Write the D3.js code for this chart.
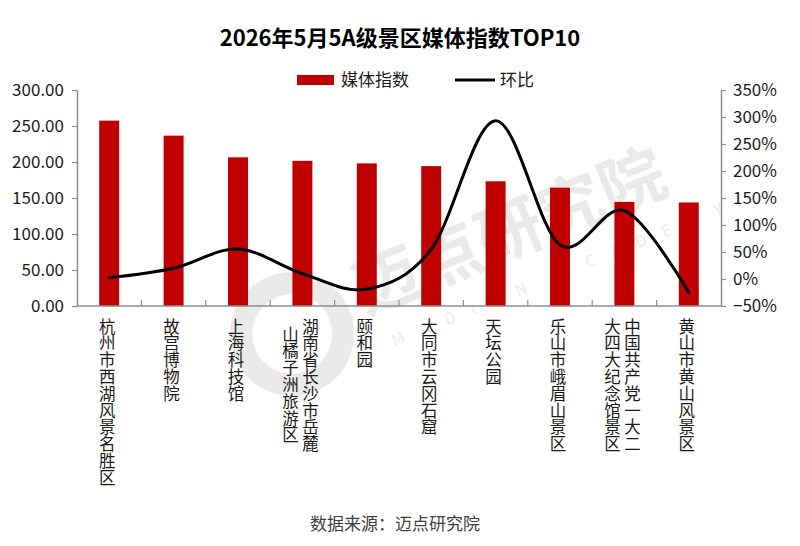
<!DOCTYPE html>
<html>
<head>
<meta charset="utf-8">
<script src="https://cdn.jsdelivr.net/npm/d3@7"></script>
<style>
  body { margin: 0; background: #fff; }
  text { font-family: "Noto Sans CJK SC", "Noto Sans", sans-serif; }
  .vlabel { writing-mode: vertical-rl; text-orientation: upright; }
</style>
</head>
<body>
<script>
const w = 800, h = 546;

// 景区名称（竖排，多列时从右到左）
const spots = [
  ["杭州市西湖风景名胜区"],
  ["故宫博物院"],
  ["上海科技馆"],
  ["湖南省长沙市岳麓", "山橘子洲旅游区"],
  ["颐和园"],
  ["大同市云冈石窟"],
  ["天坛公园"],
  ["乐山市峨眉山景区"],
  ["中国共产党一大二", "大四大纪念馆景区"],
  ["黄山市黄山风景区"]
];
const mediaIndex = [257.4, 236.6, 206.5, 201.6, 198.1, 194.3, 173.2, 164.4, 144.6, 143.8];
const momChange = [0.025, 0.20, 0.555, 0.10, -0.19, 0.55, 2.93, 0.63, 1.265, -0.25];
const leftTicks = [0, 50, 100, 150, 200, 250, 300];
const rightTicks = [-0.5, 0, 0.5, 1, 1.5, 2, 2.5, 3, 3.5];

const plotL = 77, plotR = 721, plotT = 90, plotB = 306;
const idx = d3.range(spots.length);

const svg = d3.select('body').append('svg')
  .attr('width', w)
  .attr('height', h);

// watermark
const wm = svg.append('g')
  .attr('transform', 'translate(420,250) rotate(-22)')
  .attr('opacity', 0.08);
wm.append('circle').attr('cx', -150).attr('cy', 30).attr('r', 62).attr('fill', '#000');
wm.append('circle').attr('cx', -150).attr('cy', 30).attr('r', 40).attr('fill', '#fff');
wm.append('text').attr('x', -75).attr('y', 40)
  .attr('font-size', 66).attr('font-weight', 'bold').attr('fill', '#000')
  .text('迈点研究院');
wm.append('text').attr('x', -60).attr('y', 80)
  .attr('font-size', 16).attr('letter-spacing', 17).attr('fill', '#000')
  .text('MADIAN ACADEMY');

const x = d3.scaleBand().domain(idx).range([plotL, plotR])
  .paddingInner(0.69).paddingOuter(0.345);
const xOuter = d3.scaleBand().domain(idx).range([plotL, plotR]);
const yL = d3.scaleLinear().domain([0, 300]).range([plotB, plotT]);
const yR = d3.scaleLinear().domain([-0.5, 3.5]).range([plotB, plotT]);

// bars
svg.append('g').selectAll('rect')
  .data(mediaIndex)
  .enter()
  .append('rect')
  .attr('x', (d, i) => x(i))
  .attr('y', d => yL(d))
  .attr('width', x.bandwidth())
  .attr('height', d => yL(0) - yL(d))
  .attr('fill', '#C00000');

// axes
const axisColor = '#8c8c8c';
const styleAxis = g => {
  g.select('.domain').attr('stroke', axisColor).attr('stroke-width', 1.5);
  g.selectAll('.tick line').attr('stroke', axisColor).attr('stroke-width', 1.2);
  g.selectAll('.tick text').attr('fill', '#1a1a1a').attr('font-size', 17)
    .attr('font-family', '"Noto Sans", "Open Sans", sans-serif');
};

svg.append('g')
  .attr('transform', `translate(${plotL},0)`)
  .call(d3.axisLeft(yL).tickValues(leftTicks).tickFormat(d3.format('.2f')).tickSize(5).tickPadding(8).tickSizeOuter(0))
  .call(styleAxis);

svg.append('g')
  .attr('transform', `translate(${plotR},0)`)
  .call(d3.axisRight(yR).tickValues(rightTicks).tickFormat(d3.format('.0%')).tickSize(5).tickPadding(7).tickSizeOuter(0))
  .call(styleAxis);

// x axis line with ticks at band boundaries
const xAxis = svg.append('g');
xAxis.append('line')
  .attr('x1', plotL).attr('x2', plotR)
  .attr('y1', plotB).attr('y2', plotB)
  .attr('stroke', axisColor).attr('stroke-width', 1.5);
xAxis.selectAll('line.tick')
  .data(idx.slice(1))
  .enter()
  .append('line')
  .attr('class', 'tick')
  .attr('x1', d => xOuter(d)).attr('x2', d => xOuter(d))
  .attr('y1', plotB).attr('y2', plotB - 6)
  .attr('stroke', axisColor).attr('stroke-width', 1.2);

// vertical category labels, one text per column
const labels = svg.append('g').selectAll('g')
  .data(spots)
  .enter()
  .append('g')
  .attr('transform', (d, i) => `translate(${x(i) + x.bandwidth() / 2 - 2},0)`);

labels.each(function(cols) {
  const g = d3.select(this);
  const n = cols.length;
  cols.forEach((col, c) => {
    const cx = n === 1 ? 0 : (c === 0 ? 10 : -10);
    const dyStart = (n > 1 && c === 1 && col.length < cols[0].length) ? 8 : 0;
    g.append('text')
      .attr('class', 'vlabel')
      .attr('x', cx)
      .attr('y', 318 + dyStart)
      .attr('font-size', 16.5)
      .attr('letter-spacing', 0.3)
      .attr('fill', '#1a1a1a')
      .text(col);
  });
});

// smoothed line for 环比
const lineFun = d3.line()
  .x((d, i) => x(i) + x.bandwidth() / 2)
  .y(d => yR(d))
  .curve(d3.curveCardinal.tension(0));

svg.append('path')
  .attr('d', lineFun(momChange))
  .attr('fill', 'none')
  .attr('stroke', '#000')
  .attr('stroke-width', 3)
  .attr('stroke-linecap', 'round');

// title
svg.append('text')
  .attr('x', 400).attr('y', 46)
  .attr('text-anchor', 'middle')
  .attr('font-size', 22)
  .attr('font-weight', 'bold')
  .attr('fill', '#000')
  .text('2026年5月5A级景区媒体指数TOP10');

// legend
const legend = svg.append('g');
legend.append('rect')
  .attr('x', 297).attr('y', 75).attr('width', 37).attr('height', 10)
  .attr('fill', '#C00000');
legend.append('text')
  .attr('x', 341).attr('y', 86).attr('font-size', 17).attr('fill', '#1a1a1a')
  .text('媒体指数');
legend.append('line')
  .attr('x1', 455).attr('x2', 495).attr('y1', 80).attr('y2', 80)
  .attr('stroke', '#000').attr('stroke-width', 3);
legend.append('text')
  .attr('x', 500).attr('y', 86).attr('font-size', 17).attr('fill', '#1a1a1a')
  .text('环比');

// source
svg.append('text')
  .attr('x', 395).attr('y', 530)
  .attr('text-anchor', 'middle')
  .attr('font-size', 17)
  .attr('fill', '#404040')
  .text('数据来源：迈点研究院');
</script>
</body>
</html>
